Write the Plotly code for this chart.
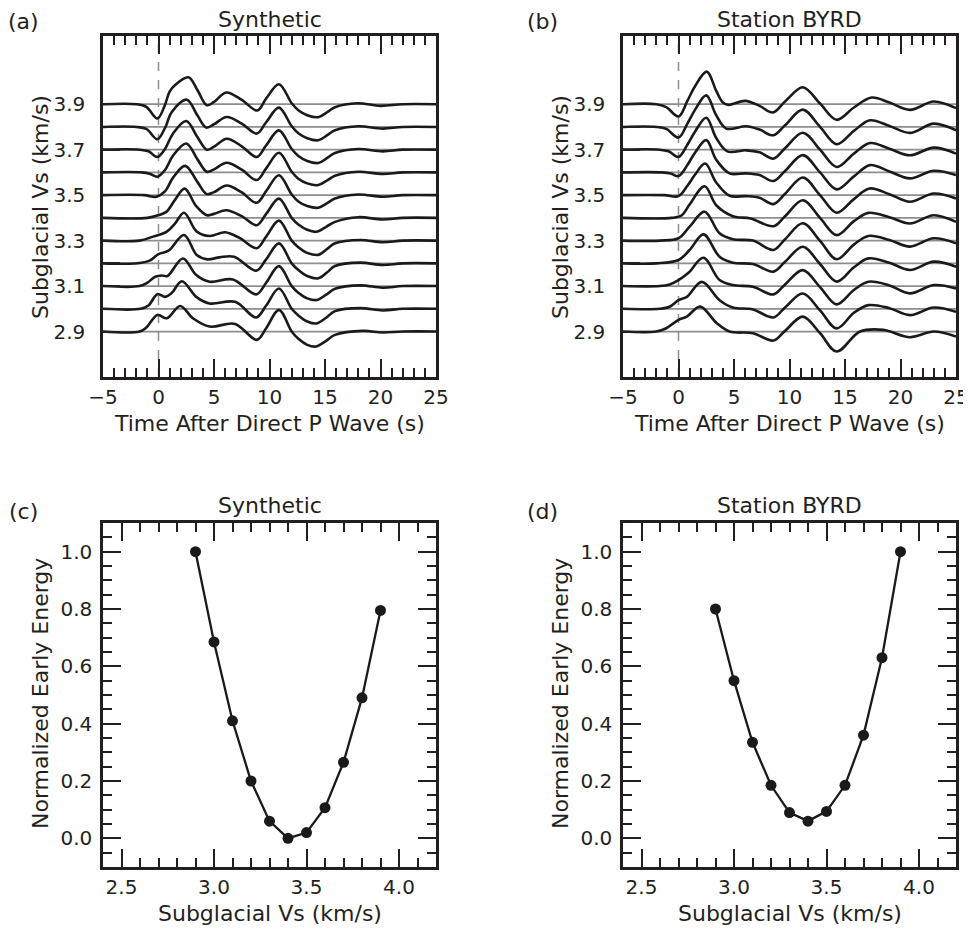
import plotly.graph_objects as go

# ---------------- data ----------------
VS_LEVELS = [2.9, 3.0, 3.1, 3.2, 3.3, 3.4, 3.5, 3.6, 3.7, 3.8, 3.9]

# waveform knots: (time after direct P [s], relative amplitude [counts])
syn_29 = [(-5,0),(-1.7,0),(-1.1,12),(-0.1,50),(0.75,40),(1.95,77),(3.1,40),(4.6,15),(6.9,23),(8.85,-25),(9.7,10),(10.85,65),(12.0,0),(12.6,-22),(13.4,-40),(14.2,-45),(15.1,-28),(15.9,-10),(18.4,2),(20.2,-3),(22.0,0),(25,0)]
syn_30 = [(-5,0),(-1.6,0),(-0.9,10),(-0.1,44),(0.6,36),(1.2,48),(2.1,83),(3.4,36),(4.6,16),(6.9,21),(8.8,-26),(9.7,10),(10.85,61),(12.0,0),(12.6,-20),(13.4,-38),(14.25,-44),(15.1,-27),(15.9,-7),(18.2,2),(20.2,-5),(22.0,0),(25,0)]
syn_31 = [(-5,0),(-1.7,0),(-1.0,10),(-0.3,28),(0.3,32),(0.8,30),(2.2,83),(3.4,33),(4.6,13),(6.7,20),(8.8,-25),(9.7,10),(10.85,60),(12.0,0),(12.6,-20),(13.4,-37),(14.25,-42),(15.1,-26),(15.9,-8),(18.2,2),(20.2,-5),(22.0,0),(25,0)]
syn_32 = [(-5,0),(-1.9,0),(-0.8,8),(0.0,28),(0.9,38),(2.3,85),(3.45,25),(4.4,12),(5.5,18),(6.8,20),(8.8,-22),(9.7,12),(10.85,60),(12.0,0),(12.6,-20),(13.4,-38),(14.4,-45),(15.2,-27),(15.9,-8),(18.2,2),(20.2,-5),(22.0,0),(25,0)]
syn_33 = [(-5,0),(-1.7,0),(-0.5,12),(0.75,27),(1.5,52),(2.3,84),(3.45,27),(4.6,14),(6.0,25),(7.3,8),(8.85,-23),(9.7,12),(10.85,60),(12.0,0),(12.6,-20),(13.4,-37),(14.4,-43),(15.2,-25),(15.9,-8),(18.2,2),(20.2,-5),(22.0,0),(25,0)]
syn_34 = [(-5,0),(-1.0,0),(0.0,8),(0.7,18),(1.5,55),(2.35,88),(3.4,35),(4.35,8),(5.0,12),(6.1,23),(7.5,5),(8.85,-22),(9.7,12),(10.85,58),(12.0,0),(12.6,-20),(13.4,-36),(14.2,-42),(15.1,-27),(15.9,-12),(18.0,2),(20.2,-5),(22.0,0),(25,0)]
syn_35 = [(-5,0),(-1.3,0),(-0.2,-5),(0.6,12),(1.3,52),(2.4,88),(3.5,40),(4.35,3),(5.0,9),(6.15,29),(7.5,8),(8.85,-23),(9.7,12),(10.85,60),(12.0,2),(12.6,-19),(13.4,-33),(14.4,-38),(15.2,-24),(15.9,-10),(18.0,2),(20.2,-5),(22.0,0),(25,0)]
syn_36 = [(-5,0),(-1.5,0),(-0.8,-4),(-0.1,-13),(0.6,8),(1.3,50),(2.5,87),(3.5,40),(4.35,2),(5.0,9),(6.15,29),(7.5,8),(8.85,-23),(9.7,12),(10.85,59),(12.0,2),(12.6,-19),(13.4,-33),(14.4,-38),(15.2,-24),(15.9,-10),(18.0,2),(20.2,-5),(22.0,0),(25,0)]
syn_37 = [(-5,0),(-1.7,0),(-0.9,-5),(-0.1,-22),(0.6,3),(1.3,48),(2.5,86),(3.5,38),(4.35,0),(5.0,9),(6.15,33),(7.5,10),(8.85,-22),(9.7,13),(10.85,58),(12.0,2),(12.6,-19),(13.4,-34),(14.4,-40),(15.2,-25),(15.9,-10),(18.0,2),(20.2,-5),(22.0,0),(25,0)]
syn_38 = [(-5,0),(-2,0),(-1.1,-6),(-0.1,-37),(0.6,-2),(1.2,45),(2.55,82),(3.5,35),(4.3,-2),(5.0,8),(6.15,30),(7.5,10),(8.85,-20),(9.7,14),(10.85,58),(12.0,2),(12.6,-19),(13.4,-34),(14.4,-40),(15.2,-25),(15.9,-10),(18.0,2),(20.2,-5),(22.0,0),(25,0)]
syn_39 = [(-5,0),(-2,0),(-1.1,-8),(-0.1,-43),(0.55,-5),(1.0,38),(1.5,58),(2.7,81),(3.5,43),(4.35,-3),(5.0,7),(6.1,35),(7.5,13),(8.9,-19),(9.7,17),(10.85,60),(12.0,3),(12.6,-18),(13.4,-33),(14.4,-39),(15.2,-24),(15.9,-9),(17.9,3),(20.0,-5),(22.0,0),(25,0)]

byrd_29 = [(-5,0),(-2,0),(-1.1,10),(0,35),(0.75,45),(1.95,75),(3.45,25),(4.6,0),(6.7,-5),(8.55,-27),(9.6,2),(11.2,45),(12.75,-5),(14.25,-60),(16.35,0),(18.45,5),(20.85,-17),(23.0,0),(25,-15)]
byrd_30 = [(-5,0),(-1.7,0),(-0.8,6),(0,26),(0.75,36),(2.1,81),(3.7,26),(4.9,4),(6.7,-2),(8.55,-26),(9.6,4),(11.2,46),(12.75,-5),(14.25,-59),(15.8,-12),(17.1,11),(19.0,2),(20.85,-19),(23.0,4),(25,-9)]
byrd_31 = [(-5,0),(-1.7,0),(-0.8,5),(0,18),(0.9,40),(2.25,85),(3.7,18),(4.9,3),(6.7,-2),(8.55,-25),(9.6,5),(11.2,48),(12.75,-3),(14.25,-55),(15.8,-12),(17.1,13),(19.0,2),(20.85,-22),(23.0,3),(25,-7)]
byrd_32 = [(-5,0),(-2,0),(0,10),(1.0,40),(2.25,87),(3.7,20),(4.9,2),(6.7,-2),(8.55,-25),(9.6,5),(11.2,50),(12.75,-2),(14.25,-55),(15.8,-12),(17.1,15),(19.0,2),(20.85,-20),(23.0,5),(25,-10)]
byrd_33 = [(-5,0),(-1.7,0),(0,7),(1.0,42),(2.35,87),(3.7,22),(4.9,4),(6.7,0),(8.55,-28),(9.6,4),(11.2,52),(12.75,-1),(14.25,-56),(15.8,-12),(17.1,14),(19.0,2),(20.85,-18),(23.0,7),(25,-8)]
byrd_34 = [(-5,0),(-0.6,0),(0.3,8),(1.0,40),(2.35,95),(3.4,38),(4.9,5),(6.5,-2),(8.55,-25),(9.6,5),(11.2,53),(12.75,0),(14.25,-52),(15.8,-10),(17.1,15),(19.0,2),(20.85,-17),(23.0,8),(25,-12)]
byrd_35 = [(-5,0),(-1.3,0),(0,-3),(0.8,28),(1.5,62),(2.4,95),(3.4,38),(4.6,-2),(6.1,-3),(7.3,-8),(8.55,-27),(9.6,4),(11.2,53),(12.75,0),(14.25,-53),(15.8,-12),(17.2,20),(19.0,3),(20.85,-20),(23.0,5),(25,-10)]
byrd_36 = [(-5,0),(-1.5,0),(-0.7,-3),(0,-11),(0.8,22),(1.5,60),(2.5,97),(3.4,38),(4.6,-3),(6.1,-3),(7.3,-8),(8.55,-26),(9.6,4),(11.2,52),(12.75,0),(14.25,-51),(15.8,-12),(17.25,22),(19.0,3),(20.85,-18),(23.0,5),(25,-8)]
byrd_37 = [(-5,0),(-1.7,0),(-0.9,-5),(0,-22),(0.8,15),(1.5,55),(2.5,96),(3.4,35),(4.4,-5),(6.1,-2),(7.3,-8),(8.55,-27),(9.6,4),(11.2,51),(12.75,0),(14.25,-52),(15.8,-12),(17.25,20),(19.0,3),(20.85,-17),(23.0,6),(25,-12)]
byrd_38 = [(-5,0),(-2,0),(-1.1,-6),(0,-32),(0.8,10),(1.5,52),(2.5,95),(3.4,35),(4.3,-5),(6.1,2),(7.3,-8),(8.55,-25),(9.6,5),(11.2,52),(12.75,0),(14.25,-52),(15.8,-12),(17.25,20),(19.0,3),(20.85,-18),(23.0,10),(25,-10)]
byrd_39 = [(-5,0),(-2,0),(-1.1,-9),(0,-37),(0.8,10),(1.5,55),(2.55,98),(3.4,40),(4.0,5),(4.5,-2),(6.0,10),(7.3,-5),(8.5,-25),(9.6,8),(11.2,51),(12.75,2),(14.25,-47),(15.8,-10),(17.4,20),(19.0,5),(20.85,-17),(23.0,8),(25,-12)]

SYN_TRACES = [syn_29, syn_30, syn_31, syn_32, syn_33, syn_34, syn_35, syn_36, syn_37, syn_38, syn_39]
BYRD_TRACES = [byrd_29, byrd_30, byrd_31, byrd_32, byrd_33, byrd_34, byrd_35, byrd_36, byrd_37, byrd_38, byrd_39]
GAIN = 0.1 / 68.4   # counts -> km/s offset on the plot

VS_POINTS = [2.9, 3.0, 3.1, 3.2, 3.3, 3.4, 3.5, 3.6, 3.7, 3.8, 3.9]
SYN_ENERGY = [1.00, 0.685, 0.41, 0.20, 0.06, 0.00, 0.02, 0.107, 0.265, 0.49, 0.795]
BYRD_ENERGY = [0.80, 0.55, 0.335, 0.185, 0.09, 0.06, 0.094, 0.185, 0.36, 0.63, 1.00]

# ---------------- figure ----------------
OFF = 8                      # page body margin of the browser
W, H = 971 - OFF, 929 - OFF
INK = "#231f20"
FONT = "DejaVu Sans"

def px_x(a, b):
    return [(a - OFF) / W, (b - OFF) / W]

def px_y(top, bottom):
    return [1 - (bottom - OFF) / H, 1 - (top - OFF) / H]

XA = px_x(103, 436)
XB = px_x(623, 956)
YT = px_y(36, 377)
YB = px_y(523, 867)

fig = go.Figure()

def add_wave_panel(traces, xa, ya):
    for lvl in VS_LEVELS:
        fig.add_trace(go.Scatter(x=[-5, 25], y=[lvl, lvl], mode="lines",
                                 line=dict(color="#8e8e8e", width=1.8),
                                 xaxis=xa, yaxis=ya, showlegend=False, hoverinfo="skip"))
    for lvl, tr in zip(VS_LEVELS, traces):
        t = [p[0] for p in tr]
        y = [lvl + p[1] * GAIN for p in tr]
        fig.add_trace(go.Scatter(x=t, y=y, mode="lines",
                                 line=dict(color="#1a1a1a", width=2.6, shape="spline", smoothing=1.0),
                                 xaxis=xa, yaxis=ya, showlegend=False))

add_wave_panel(SYN_TRACES, "x", "y")
add_wave_panel(BYRD_TRACES, "x2", "y2")

for xa, ya, e in (("x3", "y3", SYN_ENERGY), ("x4", "y4", BYRD_ENERGY)):
    fig.add_trace(go.Scatter(x=VS_POINTS, y=e, mode="lines+markers",
                             line=dict(color="#1a1a1a", width=2.3),
                             marker=dict(color="#1a1a1a", size=11),
                             xaxis=xa, yaxis=ya, showlegend=False, cliponaxis=False))

common = dict(showline=True, linewidth=2.5, linecolor=INK, ticks="inside",
              tickwidth=2, tickcolor=INK, showgrid=False, zeroline=False, automargin=False,
              tickfont=dict(family=FONT, size=20, color=INK))

def wave_x(dom, anchor):
    return dict(common, domain=dom, anchor=anchor, range=[-5, 25], tickvals=[-5, 0, 5, 10, 15, 20, 25],
                ticklen=18, mirror="ticks", ticklabelstandoff=0,
                minor=dict(dtick=1, tick0=0, ticklen=9, ticks="inside", tickwidth=2, tickcolor=INK))

def wave_y(dom, anchor):
    return dict(common, domain=dom, anchor=anchor, range=[2.7, 4.2], tickvals=VS_LEVELS,
                ticktext=[("%.1f" % v) if i % 2 == 0 else "" for i, v in enumerate(VS_LEVELS)],
                ticklen=17, mirror=True, ticklabelstandoff=11)

def en_x(dom, anchor):
    return dict(common, domain=dom, anchor=anchor, range=[2.4, 4.2], tickvals=[2.5, 3.0, 3.5, 4.0],
                tickformat=".1f", ticklen=18, mirror="ticks", ticklabelstandoff=0,
                minor=dict(dtick=0.1, tick0=2.5, ticklen=9, ticks="inside", tickwidth=2, tickcolor=INK))

def en_y(dom, anchor):
    return dict(common, domain=dom, anchor=anchor, range=[-0.1, 1.1], tickvals=[0, 0.2, 0.4, 0.6, 0.8, 1.0],
                tickformat=".1f", ticklen=18, mirror="ticks", ticklabelstandoff=4,
                minor=dict(dtick=0.05, tick0=0, ticklen=9, ticks="inside", tickwidth=2, tickcolor=INK))

fig.update_layout(
    width=W, height=H, margin=dict(l=0, r=0, t=0, b=0, autoexpand=False),
    paper_bgcolor="white", plot_bgcolor="white",
    font=dict(family=FONT, color=INK),
    xaxis=wave_x(XA, "y"), yaxis=wave_y(YT, "x"),
    xaxis2=wave_x(XB, "y2"), yaxis2=wave_y(YT, "x2"),
    xaxis3=en_x(XA, "y3"), yaxis3=en_y(YB, "x3"),
    xaxis4=en_x(XB, "y4"), yaxis4=en_y(YB, "x4"),
)

for xr, yr in (("x", "y domain"), ("x2", "y2 domain")):
    fig.add_shape(type="line", xref=xr, yref=yr, x0=0, x1=0, y0=0, y1=1,
                  line=dict(color="#8e8e8e", width=1.5, dash="dash"), layer="below")

def ann(text, x, y, size=22, angle=0):
    fig.add_annotation(text=text, x=(x - OFF) / W, y=1 - (y - OFF) / H, xref="paper", yref="paper",
                       showarrow=False, xanchor="center", yanchor="middle", textangle=angle,
                       font=dict(family=FONT, size=size, color=INK))

ann("(a)", 23, 21)
ann("(b)", 542, 21)
ann("(c)", 23, 511)
ann("(d)", 542, 511)
ann("Synthetic", 269.5, 19)
ann("Station BYRD", 789.5, 19)
ann("Synthetic", 269.5, 505)
ann("Station BYRD", 789.5, 505)
ann("Time After Direct P Wave (s)", 269.5, 423)
ann("Time After Direct P Wave (s)", 789.5, 423)
ann("Subglacial Vs (km/s)", 269.5, 913)
ann("Subglacial Vs (km/s)", 789.5, 913)
ann("Subglacial Vs (km/s)", 40, 207, angle=-90)
ann("Subglacial Vs (km/s)", 560, 207, angle=-90)
ann("Normalized Early Energy", 40, 694, angle=-90)
ann("Normalized Early Energy", 560, 694, angle=-90)

fig.write_html("out.html")
